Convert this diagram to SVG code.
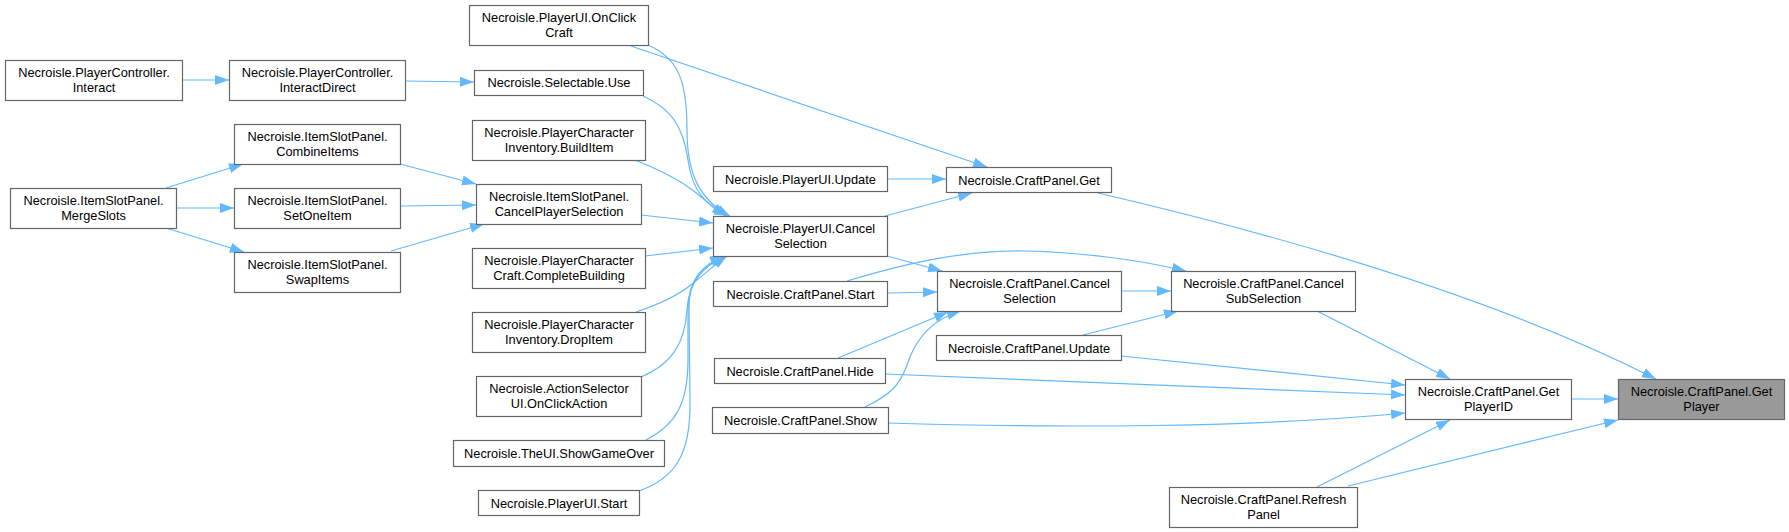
<svg xmlns="http://www.w3.org/2000/svg" width="1789" height="532" viewBox="0 0 1789 532">
<style>
.n rect{fill:#ffffff;stroke:#666666;stroke-width:1.2}
.n.hl rect{fill:#999999}
.n text{font-family:"Liberation Sans",Arial,sans-serif;font-size:12.8px;fill:#000;text-anchor:middle}
.e path{fill:none;stroke:#63b8ff;stroke-width:1.2}
</style>
<defs>
<marker id="ah" markerUnits="userSpaceOnUse" markerWidth="16" markerHeight="12" refX="14" refY="5" orient="auto">
<path d="M0,0 L14,5 L0,10 z" fill="#63b8ff"/>
</marker>
</defs>
<rect width="1789" height="532" fill="#ffffff"/>
<g id="edges" class="e" marker-end="url(#ah)">
<path d="M182,80 L229,80" marker-end="url(#ah)"/>
<path d="M405,81 L474,82" marker-end="url(#ah)"/>
<path d="M166,188 L243,164" marker-end="url(#ah)"/>
<path d="M176,208 L234,208" marker-end="url(#ah)"/>
<path d="M166,228 L244,252" marker-end="url(#ah)"/>
<path d="M400,164 L476,184" marker-end="url(#ah)"/>
<path d="M400,206 L476,205" marker-end="url(#ah)"/>
<path d="M391,251 L484,224" marker-end="url(#ah)"/>
<path d="M648,45 C678,58 687,80 687,130 C687,175 700,200 730,216" marker-end="url(#ah)"/>
<path d="M628,45 L987,167" marker-end="url(#ah)"/>
<path d="M643,96 C670,108 683,125 688,160 C692,190 705,205 728,216" marker-end="url(#ah)"/>
<path d="M635,160 C660,170 680,180 695,192 C705,200 713,207 726,216" marker-end="url(#ah)"/>
<path d="M641,215 L713,223" marker-end="url(#ah)"/>
<path d="M645,256 L713,248" marker-end="url(#ah)"/>
<path d="M636,312 C660,304 680,294 692,284 C705,274 715,264 727,256" marker-end="url(#ah)"/>
<path d="M641,377 C670,365 685,345 687,310 C689,280 705,265 726,256" marker-end="url(#ah)"/>
<path d="M646,440 C675,425 688,405 688,360 L688,310 C688,280 702,265 725,256" marker-end="url(#ah)"/>
<path d="M639,491 C675,478 691,455 690,400 L689,310 C688,280 702,265 724,256" marker-end="url(#ah)"/>
<path d="M887,179 L946,179" marker-end="url(#ah)"/>
<path d="M885,216 L972,193" marker-end="url(#ah)"/>
<path d="M887,256 L942,271" marker-end="url(#ah)"/>
<path d="M887,293 L937,292" marker-end="url(#ah)"/>
<path d="M847,281 C900,265 960,250 1025,251 C1080,252 1140,260 1186,271" marker-end="url(#ah)"/>
<path d="M1121,291 L1171,291" marker-end="url(#ah)"/>
<path d="M838,358 L948,312" marker-end="url(#ah)"/>
<path d="M865,407 C890,395 900,385 907,365 C915,340 930,320 961,311" marker-end="url(#ah)"/>
<path d="M1083,335 L1178,311" marker-end="url(#ah)"/>
<path d="M1098,193 C1300,240 1500,300 1656,379" marker-end="url(#ah)"/>
<path d="M1317,311 L1450,379" marker-end="url(#ah)"/>
<path d="M1121,356 L1405,385" marker-end="url(#ah)"/>
<path d="M885,374 L1405,395" marker-end="url(#ah)"/>
<path d="M888,423 C1050,428 1250,428 1405,413" marker-end="url(#ah)"/>
<path d="M1317,487 L1450,420" marker-end="url(#ah)"/>
<path d="M1348,486 L1618,420" marker-end="url(#ah)"/>
<path d="M1571,399 L1618,399" marker-end="url(#ah)"/>
</g>
<g id="n1" class="n"><rect x="5.5" y="60.5" width="177" height="40"/><text x="94" y="77">Necroisle.PlayerController.</text><text x="94" y="91.5">Interact</text></g>
<g id="n2" class="n"><rect x="229.5" y="60.5" width="176" height="40"/><text x="317.5" y="77">Necroisle.PlayerController.</text><text x="317.5" y="91.5">InteractDirect</text></g>
<g id="n3" class="n"><rect x="10.5" y="188.5" width="166" height="40"/><text x="93.5" y="205">Necroisle.ItemSlotPanel.</text><text x="93.5" y="219.5">MergeSlots</text></g>
<g id="n4" class="n"><rect x="234.5" y="124.5" width="166" height="40"/><text x="317.5" y="141">Necroisle.ItemSlotPanel.</text><text x="317.5" y="155.5">CombineItems</text></g>
<g id="n5" class="n"><rect x="234.5" y="188.5" width="166" height="40"/><text x="317.5" y="205">Necroisle.ItemSlotPanel.</text><text x="317.5" y="219.5">SetOneItem</text></g>
<g id="n6" class="n"><rect x="234.5" y="252.5" width="166" height="40"/><text x="317.5" y="269">Necroisle.ItemSlotPanel.</text><text x="317.5" y="283.5">SwapItems</text></g>
<g id="n7" class="n"><rect x="469.5" y="5.5" width="179" height="40"/><text x="559" y="22">Necroisle.PlayerUI.OnClick</text><text x="559" y="36.5">Craft</text></g>
<g id="n8" class="n"><rect x="474.5" y="70.5" width="169" height="25"/><text x="559" y="87">Necroisle.Selectable.Use</text></g>
<g id="n9" class="n"><rect x="472.5" y="120.5" width="173" height="40"/><text x="559" y="137">Necroisle.PlayerCharacter</text><text x="559" y="151.5">Inventory.BuildItem</text></g>
<g id="n10" class="n"><rect x="476.5" y="184.5" width="165" height="40"/><text x="559" y="201">Necroisle.ItemSlotPanel.</text><text x="559" y="215.5">CancelPlayerSelection</text></g>
<g id="n11" class="n"><rect x="472.5" y="248.5" width="173" height="40"/><text x="559" y="265">Necroisle.PlayerCharacter</text><text x="559" y="279.5">Craft.CompleteBuilding</text></g>
<g id="n12" class="n"><rect x="472.5" y="312.5" width="173" height="40"/><text x="559" y="329">Necroisle.PlayerCharacter</text><text x="559" y="343.5">Inventory.DropItem</text></g>
<g id="n13" class="n"><rect x="476.5" y="376.5" width="165" height="40"/><text x="559" y="393">Necroisle.ActionSelector</text><text x="559" y="407.5">UI.OnClickAction</text></g>
<g id="n14" class="n"><rect x="453.5" y="440.5" width="211" height="26"/><text x="559" y="457.5">Necroisle.TheUI.ShowGameOver</text></g>
<g id="n15" class="n"><rect x="478.5" y="490.5" width="161" height="25"/><text x="559" y="507.5">Necroisle.PlayerUI.Start</text></g>
<g id="n16" class="n"><rect x="713.5" y="166.5" width="174" height="25"/><text x="800.5" y="183.5">Necroisle.PlayerUI.Update</text></g>
<g id="n17" class="n"><rect x="713.5" y="216.5" width="174" height="40"/><text x="800.5" y="233">Necroisle.PlayerUI.Cancel</text><text x="800.5" y="247.5">Selection</text></g>
<g id="n18" class="n"><rect x="713.5" y="281.5" width="174" height="25"/><text x="800.5" y="298.5">Necroisle.CraftPanel.Start</text></g>
<g id="n19" class="n"><rect x="714.5" y="358.5" width="171" height="25"/><text x="800" y="375.5">Necroisle.CraftPanel.Hide</text></g>
<g id="n20" class="n"><rect x="712.5" y="407.5" width="176" height="26"/><text x="800.5" y="424.5">Necroisle.CraftPanel.Show</text></g>
<g id="n21" class="n"><rect x="946.5" y="167.5" width="165" height="25"/><text x="1029" y="184.5">Necroisle.CraftPanel.Get</text></g>
<g id="n22" class="n"><rect x="937.5" y="271.5" width="184" height="40"/><text x="1029.5" y="288">Necroisle.CraftPanel.Cancel</text><text x="1029.5" y="302.5">Selection</text></g>
<g id="n23" class="n"><rect x="936.5" y="335.5" width="185" height="25"/><text x="1029" y="352.5">Necroisle.CraftPanel.Update</text></g>
<g id="n24" class="n"><rect x="1171.5" y="271.5" width="184" height="40"/><text x="1263.5" y="288">Necroisle.CraftPanel.Cancel</text><text x="1263.5" y="302.5">SubSelection</text></g>
<g id="n25" class="n"><rect x="1169.5" y="487.5" width="188" height="40"/><text x="1263.5" y="504">Necroisle.CraftPanel.Refresh</text><text x="1263.5" y="518.5">Panel</text></g>
<g id="n26" class="n"><rect x="1405.5" y="379.5" width="166" height="40"/><text x="1488.5" y="396">Necroisle.CraftPanel.Get</text><text x="1488.5" y="410.5">PlayerID</text></g>
<g id="n27" class="n hl"><rect x="1618.5" y="379.5" width="166" height="40"/><text x="1701.5" y="396">Necroisle.CraftPanel.Get</text><text x="1701.5" y="410.5">Player</text></g>
</svg>
